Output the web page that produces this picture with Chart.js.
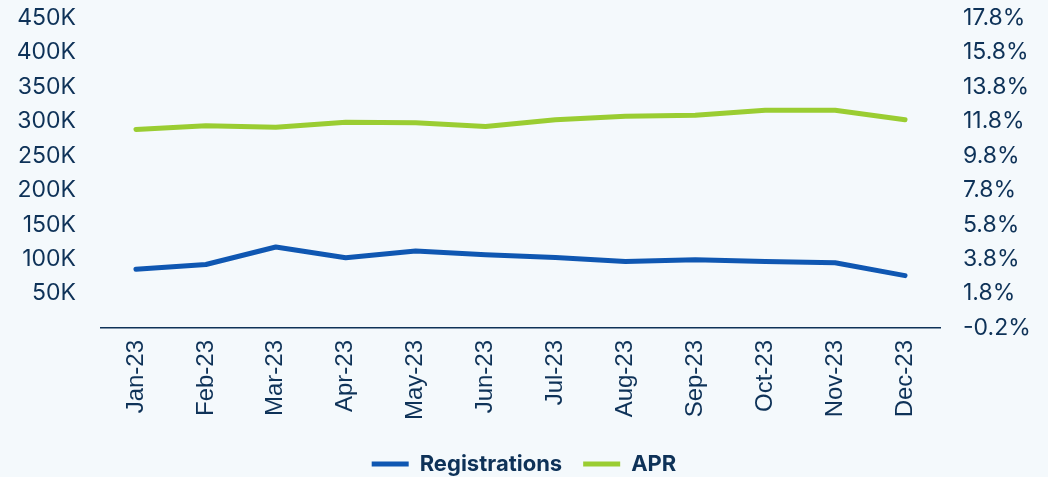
<!DOCTYPE html>
<html>
<head>
<meta charset="utf-8">
<script src="https://cdn.jsdelivr.net/npm/chart.js@4.4.1/dist/chart.umd.min.js"></script>
<style>
  html, body { margin: 0; padding: 0; background: #f4f9fc; }
  #wrap { width: 1048px; height: 477px; position: relative; }
</style>
</head>
<body>
<div id="wrap"><canvas id="c"></canvas></div>
<script>
const categories = ['Jan-23','Feb-23','Mar-23','Apr-23','May-23','Jun-23','Jul-23','Aug-23','Sep-23','Oct-23','Nov-23','Dec-23'];
const registrations = [85300, 92200, 117500, 102000, 111600, 106300, 102400, 96500, 99000, 96500, 94600, 76000];
const apr = [11.33, 11.54, 11.46, 11.74, 11.72, 11.50, 11.89, 12.09, 12.15, 12.44, 12.44, 11.89];
const leftTicks = [0, 50000, 100000, 150000, 200000, 250000, 300000, 350000, 400000, 450000];
const rightTicks = [-0.2, 1.8, 3.8, 5.8, 7.8, 9.8, 11.8, 13.8, 15.8, 17.8];

const navy = '#0e3258';
const blue = '#0f57b2';
const green = '#9acd32';

new Chart(document.getElementById('c'), {
  type: 'line',
  data: {
    labels: categories,
    datasets: [
      { label: 'Registrations', data: registrations, yAxisID: 'y', borderColor: blue, backgroundColor: blue,
        borderWidth: 5, borderCapStyle: 'round', borderJoinStyle: 'round', pointRadius: 0, tension: 0 },
      { label: 'APR', data: apr, yAxisID: 'y1', borderColor: green, backgroundColor: green,
        borderWidth: 5, borderCapStyle: 'round', borderJoinStyle: 'round', pointRadius: 0, tension: 0 }
    ]
  },
  options: {
    responsive: true,
    maintainAspectRatio: false,
    animation: false,
    layout: { padding: { top: 18, bottom: -8, left: 0, right: 0 } },
    plugins: {
      tooltip: { enabled: false },
      legend: {
        position: 'bottom',
        labels: {
          usePointStyle: true,
          pointStyle: 'line',
          pointStyleWidth: 37,
          boxHeight: 5,
          padding: 21,
          color: navy,
          font: { family: 'Inter', size: 22, weight: 'bold' }
        }
      }
    },
    scales: {
      x: {
        offset: true,
        grid: { display: false, drawTicks: false },
        border: { display: true, color: navy, width: 1.5 },
        ticks: {
          minRotation: 90, maxRotation: 90, padding: 12, color: navy,
          font: { family: 'Liberation Sans', size: 24 }
        }
      },
      y: {
        position: 'left',
        min: 0, max: 450000,
        afterBuildTicks: (s) => { s.ticks = leftTicks.map(v => ({ value: v })); },
        afterFit: (s) => { s.width = 101; s.paddingTop = 0; s.paddingBottom = 0; },
        grid: { display: false, drawTicks: false },
        border: { display: false },
        ticks: {
          padding: 25, color: navy,
          font: { family: 'Inter', size: 23 },
          callback: (v) => v === 0 ? '' : (v / 1000) + 'K'
        }
      },
      y1: {
        position: 'right',
        min: -0.2, max: 17.8,
        afterBuildTicks: (s) => { s.ticks = rightTicks.map(v => ({ value: v })); },
        afterFit: (s) => { s.width = 108; s.paddingTop = 0; s.paddingBottom = 0; },
        grid: { display: false, drawTicks: false },
        border: { display: false },
        ticks: {
          padding: 23, color: navy,
          font: { family: 'Inter', size: 23 },
          callback: (v) => Number(v).toFixed(1) + '%'
        }
      }
    }
  }
});
</script>
</body>
</html>
